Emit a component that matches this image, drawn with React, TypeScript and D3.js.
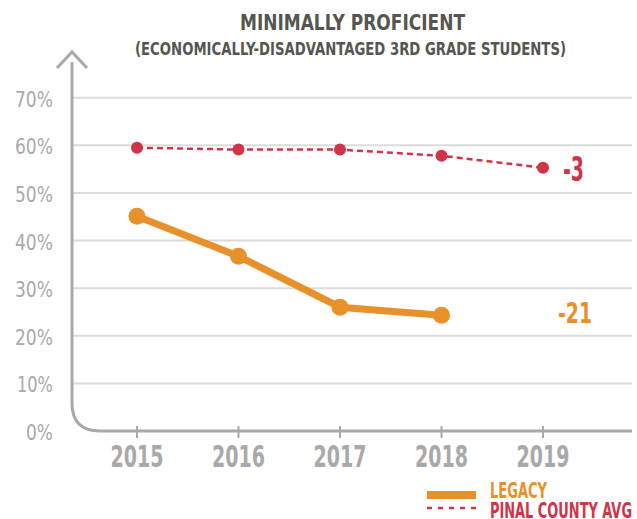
import React from "react";
import * as d3 from "d3";

// chart data
const years = [2015, 2016, 2017, 2018, 2019];
const legacyValues = [45.1, 36.7, 26.0, 24.3];
const pinalValues = [59.5, 59.1, 59.1, 57.8, 55.3];
const yTicks = [0, 10, 20, 30, 40, 50, 60, 70];
const changeLabels = { legacy: "-21", pinal: "-3" };

const W = 637;
const H = 519;
const FONT = "'DejaVu Sans Condensed', 'Liberation Sans Narrow', Arial, sans-serif";
const ORANGE = "#e8912a";
const RED = "#d1344a";
const AXIS = "#a9a9a9";
const GRID = "#dcdcdc";

// rough width of a condensed label, so the squeezed font keeps the reference's width
const labelWidth = (s: string) =>
  s.split("").reduce((w, c) => w + (c === "%" ? 16 : c === "1" ? 9 : 11), 0);

export default function App() {
  const x = d3.scalePoint<number>().domain(years).range([137, 543]);
  const y = d3.scaleLinear().domain([0, 70]).range([431, 97.7]);

  const line = d3
    .line<[number, number]>()
    .x((d) => x(d[0]) as number)
    .y((d) => y(d[1]));

  const legacyPts: [number, number][] = legacyValues.map((v, i) => [years[i], v]);
  const pinalPts: [number, number][] = pinalValues.map((v, i) => [years[i], v]);

  const x0 = 72;
  const x1 = 632;
  const base = y(0);
  const r = 28;

  return (
    <svg width={W} height={H} style={{ position: "absolute", left: 0, top: 0 }}>
      {/* title */}
      <text x={352.5} y={30} textAnchor="middle" fontFamily={FONT} fontWeight="bold"
        fontSize={22} fill="#55564f" textLength={225} lengthAdjust="spacingAndGlyphs">
        MINIMALLY PROFICIENT
      </text>
      <text x={350.5} y={55} textAnchor="middle" fontFamily={FONT} fontWeight="bold"
        fontSize={18} fill="#55564f" textLength={431} lengthAdjust="spacingAndGlyphs">
        (ECONOMICALLY-DISADVANTAGED 3RD GRADE STUDENTS)
      </text>

      {/* gridlines */}
      {yTicks.filter((t) => t > 0).map((t) => (
        <line key={t} x1={x0} x2={x1} y1={y(t)} y2={y(t)} stroke={GRID} strokeWidth={2} />
      ))}

      {/* y labels */}
      {yTicks.map((t) => (
        <text key={t} x={53} y={y(t) + 9} textAnchor="end" fontFamily={FONT}
          fontSize={22} fill={AXIS} textLength={labelWidth(`${t}%`)}
          lengthAdjust="spacingAndGlyphs">
          {t}%
        </text>
      ))}

      {/* axes with rounded corner */}
      <path
        d={`M${x0},62 L${x0},${base - r} Q${x0},${base} ${x0 + r},${base} L${x1},${base}`}
        fill="none" stroke={AXIS} strokeWidth={3}
      />
      <path d={`M57,68 L${x0},52 L87,68`} fill="none" stroke={AXIS} strokeWidth={3} />

      {/* x ticks and labels */}
      {years.map((yr) => (
        <g key={yr}>
          <line x1={x(yr)} x2={x(yr)} y1={base - 5} y2={base + 7} stroke={AXIS} strokeWidth={2} />
          <text x={x(yr)} y={467} textAnchor="middle" fontFamily={FONT}
            fontWeight="bold" fontSize={30} fill={AXIS} textLength={53}
            lengthAdjust="spacingAndGlyphs">
            {yr}
          </text>
        </g>
      ))}

      {/* pinal county avg */}
      <path d={line(pinalPts) || ""} fill="none" stroke={RED} strokeWidth={2.5}
        strokeDasharray="6,4" />
      {pinalPts.map((d) => (
        <circle key={d[0]} cx={x(d[0])} cy={y(d[1])} r={6} fill={RED} />
      ))}

      {/* legacy */}
      <path d={line(legacyPts) || ""} fill="none" stroke={ORANGE} strokeWidth={7} />
      {legacyPts.map((d) => (
        <circle key={d[0]} cx={x(d[0])} cy={y(d[1])} r={8.5} fill={ORANGE} />
      ))}

      {/* change labels */}
      <text x={563} y={181} fontFamily={FONT} fontWeight="bold"
        fontSize={33} fill={RED} textLength={21} lengthAdjust="spacingAndGlyphs">
        {changeLabels.pinal}
      </text>
      <text x={558} y={323} fontFamily={FONT} fontWeight="bold"
        fontSize={29} fill={ORANGE} textLength={34} lengthAdjust="spacingAndGlyphs">
        {changeLabels.legacy}
      </text>

      {/* legend */}
      <line x1={427} x2={476} y1={495} y2={495} stroke={ORANGE} strokeWidth={8} />
      <text x={490} y={498} fontFamily={FONT} fontWeight="bold" fontSize={20.5}
        fill={ORANGE} textLength={57} lengthAdjust="spacingAndGlyphs">
        LEGACY
      </text>
      <line x1={427} x2={476} y1={508} y2={508} stroke={RED} strokeWidth={2.5}
        strokeDasharray="5,6" />
      <text x={490} y={518} fontFamily={FONT} fontWeight="bold" fontSize={20.5}
        fill={RED} textLength={142} lengthAdjust="spacingAndGlyphs">
        PINAL COUNTY AVG
      </text>
    </svg>
  );
}
